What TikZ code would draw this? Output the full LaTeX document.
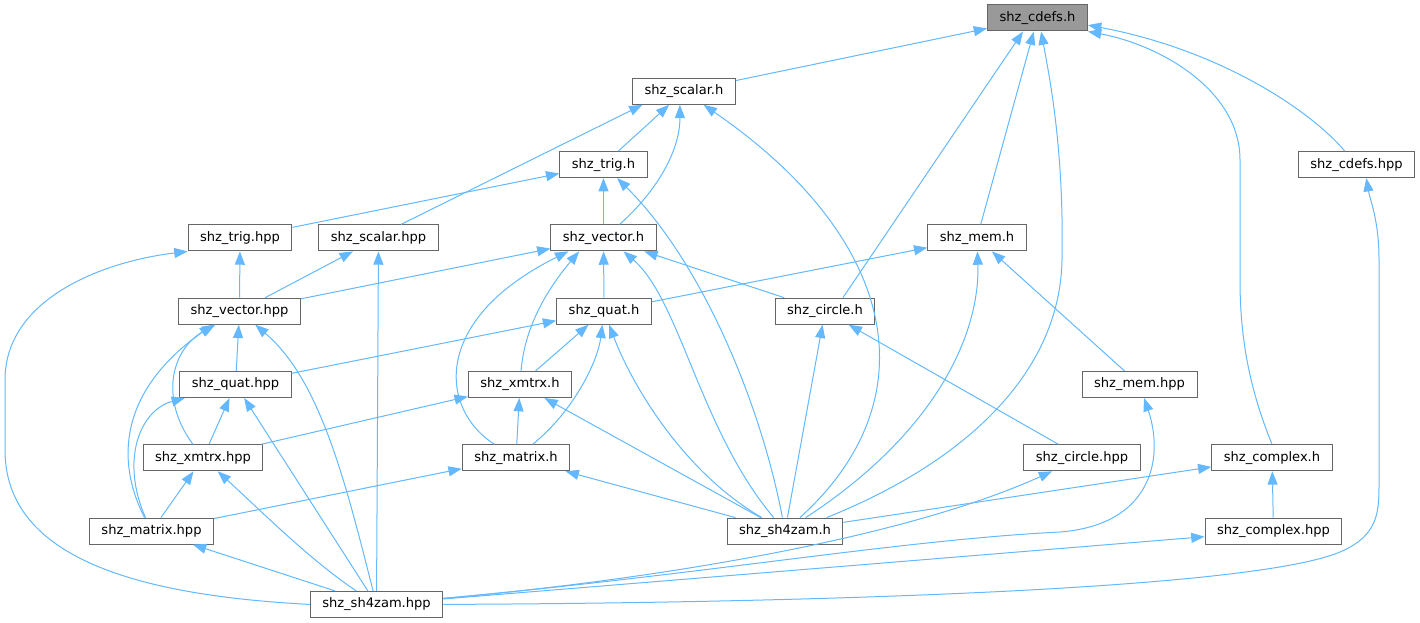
\documentclass[tikz,border=0pt]{standalone}
\usepackage{fontspec}
\setmainfont{DejaVu Sans}
\usetikzlibrary{arrows.meta}
\definecolor{edgeblue}{HTML}{63B8FF}
\definecolor{boxgray}{HTML}{666666}
\definecolor{curgray}{HTML}{999999}

\begin{document}
\begin{tikzpicture}[x=0.75pt, y=-0.75pt,
    hdr/.style={rectangle, draw=boxgray, fill=white, line width=0.75pt, minimum height=19.5pt, inner xsep=9pt, inner ysep=0pt, font=\fontsize{9.8}{12}\selectfont},
    edge/.style={-{Triangle[length=10pt, width=7.5pt]}, edgeblue, line width=0.75pt}]
    \useasboundingbox (0,0) rectangle (1420,623);

    % Root header
    \node[hdr, fill=curgray] (cdefsh) at (1037.5, 18) {shz\_cdefs.h};

    % Including headers, by row
    \foreach \n/\x/\r/\t in {scalarh/684/1/shz\_scalar.h, trigh/603.5/2/shz\_trig.h, cdefshpp/1356.5/2/shz\_cdefs.hpp,
        trighpp/240/3/shz\_trig.hpp, scalarhpp/378.5/3/shz\_scalar.hpp, vectorh/603.5/3/shz\_vector.h, memh/977/3/shz\_mem.h,
        vectorhpp/239.5/4/shz\_vector.hpp, quath/604/4/shz\_quat.h, circleh/825/4/shz\_circle.h,
        quathpp/235.5/5/shz\_quat.hpp, xmtrxh/520/5/shz\_xmtrx.h, memhpp/1139.5/5/shz\_mem.hpp,
        xmtrxhpp/203/6/shz\_xmtrx.hpp, matrixh/516/6/shz\_matrix.h, circlehpp/1082/6/shz\_circle.hpp, complexh/1272/6/shz\_complex.h,
        matrixhpp/151.5/7/shz\_matrix.hpp, sh4zamh/785/7/shz\_sh4zam.h, complexhpp/1273.5/7/shz\_complex.hpp,
        sh4zamhpp/376.5/8/shz\_sh4zam.hpp} {
        \node[hdr] (\n) at (\x, {18+73.3*\r}) {\t};
    }

    % Straight includes
    \foreach \a/\b in {scalarh/cdefsh, memh/cdefsh, trigh/scalarh, trighpp/trigh, vectorh/trigh,
        vectorhpp/trighpp, vectorhpp/scalarhpp, sh4zamhpp/scalarhpp, vectorhpp/vectorh, quath/vectorh, circleh/vectorh,
        quath/memh, memhpp/memh, quathpp/vectorhpp, quathpp/quath, xmtrxh/quath, sh4zamh/circleh, circlehpp/circleh,
        xmtrxhpp/quathpp, sh4zamhpp/quathpp, xmtrxhpp/xmtrxh, matrixh/xmtrxh, sh4zamh/xmtrxh, matrixhpp/xmtrxhpp,
        matrixhpp/matrixh, sh4zamh/matrixh, sh4zamh/complexh, complexhpp/complexh, sh4zamhpp/matrixhpp, sh4zamhpp/complexhpp} {
        \draw[edge] (\a) -- (\b);
    }
    \draw[edge] (circleh.37) -- (cdefsh.223);
    \draw[edge] (scalarhpp.31) -- (scalarh.198);

    % Curved includes
    \draw[edge] (sh4zamh.18) .. controls (970,460) and (1060,370) .. (1062,260) .. controls (1064,150) and (1050,80) .. (cdefsh.-75);
    \draw[edge] (complexh.north) .. controls (1250,390) and (1240,340) .. (1240,280) -- (1240,160) .. controls (1240,90) and (1160,45) .. (cdefsh.south east);
    \draw[edge] (cdefshpp.131) .. controls (1310,110) and (1220,50) .. (cdefsh.-8);
    \draw[edge] (vectorh.40) .. controls (658,190) and (680,150) .. (scalarh.-107);
    \draw[edge] (sh4zamh) .. controls (930,400) and (900,240) .. (scalarh);
    \draw[edge] (sh4zamh) .. controls (760,400) and (700,260) .. (trigh);
    \draw[edge] (sh4zamhpp.east) .. controls (800,603) and (1250,590) .. (1340,552) .. controls (1380,535) and (1379,510) .. (1379,480) -- (1379,260) .. controls (1379,220) and (1370,200) .. (cdefshpp.-54);
    \draw[edge] (sh4zamhpp.west) .. controls (130,595) and (5,555) .. (5,450) -- (5,380) .. controls (5,300) and (100,262) .. (trighpp.south west);
    \draw[edge] (xmtrxh) .. controls (525,320) and (555,280) .. (vectorh.209);
    \draw[edge] (matrixh) .. controls (440,410) and (430,320) .. (vectorh.201);
    \draw[edge] (sh4zamh) .. controls (700,430) and (680,300) .. (vectorh.-34);
    \draw[edge] (sh4zamh) .. controls (940,430) and (980,330) .. (memh);
    \draw[edge] (xmtrxhpp) .. controls (160,400) and (170,350) .. (vectorhpp);
    \draw[edge] (matrixhpp) .. controls (115,460) and (120,390) .. (vectorhpp.-153);
    \draw[edge] (sh4zamhpp) .. controls (345,480) and (320,380) .. (vectorhpp);
    \draw[edge] (matrixh) .. controls (575,410) and (598,360) .. (quath);
    \draw[edge] (sh4zamh) .. controls (680,470) and (630,380) .. (quath);
    \draw[edge] (matrixhpp) .. controls (120,460) and (140,410) .. (quathpp);
    \draw[edge] (sh4zamhpp) .. controls (700,575) and (900,540) .. (1060,532) .. controls (1150,525) and (1165,460) .. (memhpp);
    \draw[edge] (sh4zamhpp) .. controls (310,560) and (260,510) .. (xmtrxhpp);
    \draw[edge] (sh4zamhpp) .. controls (650,580) and (900,540) .. (circlehpp);
\end{tikzpicture}
\end{document}
